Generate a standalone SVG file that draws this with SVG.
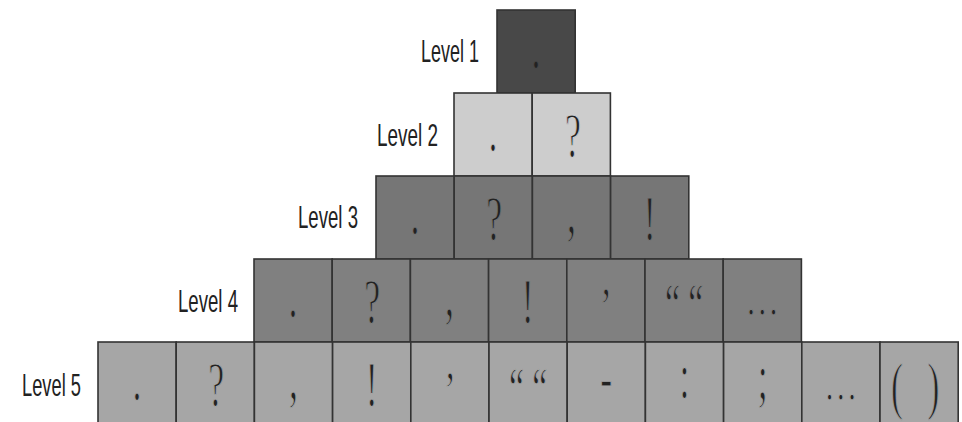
<svg xmlns="http://www.w3.org/2000/svg" width="962" height="422" viewBox="0 0 962 422">
<style>
.box{stroke:#333;stroke-width:1.6}
.r1{fill:#484848}.r2{fill:#cdcdcd}.r3{fill:#767676}.r4{fill:#808080}.r5{fill:#a6a6a6}
.lbl{font-family:"Liberation Sans",Arial,sans-serif;font-size:32px;fill:#222}
.g{font-family:"Liberation Serif","Times New Roman",serif;font-size:64px;fill:#222;text-anchor:middle;stroke-width:1.2}
#level1 .g{stroke:#484848}#level2 .g{stroke:#cdcdcd}#level3 .g{stroke:#767676}#level4 .g{stroke:#808080}#level5 .g{stroke:#a6a6a6}
.q{font-size:60px}
.e{font-size:48px}
.a{font-size:55px}
</style>
<rect width="962" height="422" fill="#fff"/>
<g id="labels">
<text class="lbl" x="421" y="62" textLength="58" lengthAdjust="spacingAndGlyphs">Level 1</text>
<text class="lbl" x="377" y="146" textLength="61" lengthAdjust="spacingAndGlyphs">Level 2</text>
<text class="lbl" x="298" y="228" textLength="60" lengthAdjust="spacingAndGlyphs">Level 3</text>
<text class="lbl" x="178" y="312" textLength="60" lengthAdjust="spacingAndGlyphs">Level 4</text>
<text class="lbl" x="22" y="396" textLength="59" lengthAdjust="spacingAndGlyphs">Level 5</text>
</g>
<g id="level1">
<rect class="box r1" x="497" y="10" width="78.2" height="83"/>
<text class="g" transform="translate(536.1,68) scale(0.56,1)">.</text>
</g>
<g id="level2">
<rect class="box r2" x="454" y="93" width="78.2" height="83"/>
<rect class="box r2" x="532.2" y="93" width="78.2" height="83"/>
<text class="g" transform="translate(493.1,151) scale(0.56,1)">.</text>
<text class="g" transform="translate(573,157) scale(0.56,1)">?</text>
</g>
<g id="level3">
<rect class="box r3" x="376" y="176" width="78.2" height="83"/>
<rect class="box r3" x="454.2" y="176" width="78.2" height="83"/>
<rect class="box r3" x="532.4" y="176" width="78.2" height="83"/>
<rect class="box r3" x="610.6" y="176" width="78.2" height="83"/>
<text class="g" transform="translate(415.1,234) scale(0.56,1)">.</text>
<text class="g" transform="translate(494.3,240) scale(0.56,1)">?</text>
<text class="g" transform="translate(571.5,233) scale(0.56,1)">,</text>
<text class="g" transform="translate(649.7,240) scale(0.56,1)">!</text>
</g>
<g id="level4">
<rect class="box r4" x="254" y="259" width="78.2" height="83"/>
<rect class="box r4" x="332.2" y="259" width="78.2" height="83"/>
<rect class="box r4" x="410.4" y="259" width="78.2" height="83"/>
<rect class="box r4" x="488.6" y="259" width="78.2" height="83"/>
<rect class="box r4" x="566.8" y="259" width="78.2" height="83"/>
<rect class="box r4" x="645" y="259" width="78.2" height="83"/>
<rect class="box r4" x="723.2" y="259" width="78.2" height="83"/>
<text class="g" transform="translate(293.1,317) scale(0.56,1)">.</text>
<text class="g" transform="translate(372.3,323) scale(0.56,1)">?</text>
<text class="g" transform="translate(449.5,316) scale(0.56,1)">,</text>
<text class="g" transform="translate(527.7,323) scale(0.56,1)">!</text>
<text class="g a" transform="translate(605.9,325) scale(0.65,1)">’</text>
<text class="g q" transform="translate(684.1,324) scale(0.56,1)">“ “</text>
<text class="g e" transform="translate(762.3,315) scale(0.7,1)">…</text>
</g>
<g id="level5">
<rect class="box r5" x="98" y="342" width="78.2" height="83"/>
<rect class="box r5" x="176.2" y="342" width="78.2" height="83"/>
<rect class="box r5" x="254.4" y="342" width="78.2" height="83"/>
<rect class="box r5" x="332.6" y="342" width="78.2" height="83"/>
<rect class="box r5" x="410.8" y="342" width="78.2" height="83"/>
<rect class="box r5" x="489" y="342" width="78.2" height="83"/>
<rect class="box r5" x="567.2" y="342" width="78.2" height="83"/>
<rect class="box r5" x="645.4" y="342" width="78.2" height="83"/>
<rect class="box r5" x="723.6" y="342" width="78.2" height="83"/>
<rect class="box r5" x="801.8" y="342" width="78.2" height="83"/>
<rect class="box r5" x="880" y="342" width="78.2" height="83"/>
<text class="g" transform="translate(137.1,400) scale(0.56,1)">.</text>
<text class="g" transform="translate(216.3,406) scale(0.56,1)">?</text>
<text class="g" transform="translate(293.5,399) scale(0.56,1)">,</text>
<text class="g" transform="translate(371.7,406) scale(0.56,1)">!</text>
<text class="g a" transform="translate(449.9,409) scale(0.65,1)">’</text>
<text class="g q" transform="translate(528.1,408) scale(0.56,1)">“ “</text>
<text class="g" transform="translate(606.3,399) scale(0.56,1)">-</text>
<text class="g" transform="translate(684.5,398) scale(0.56,1)">:</text>
<text class="g" transform="translate(762.7,398) scale(0.56,1)">;</text>
<text class="g e" transform="translate(840.9,399.5) scale(0.7,1)">…</text>
<text class="g" transform="translate(919.1,407) scale(0.56,1)" letter-spacing="14">( )</text>
</g>
</svg>
